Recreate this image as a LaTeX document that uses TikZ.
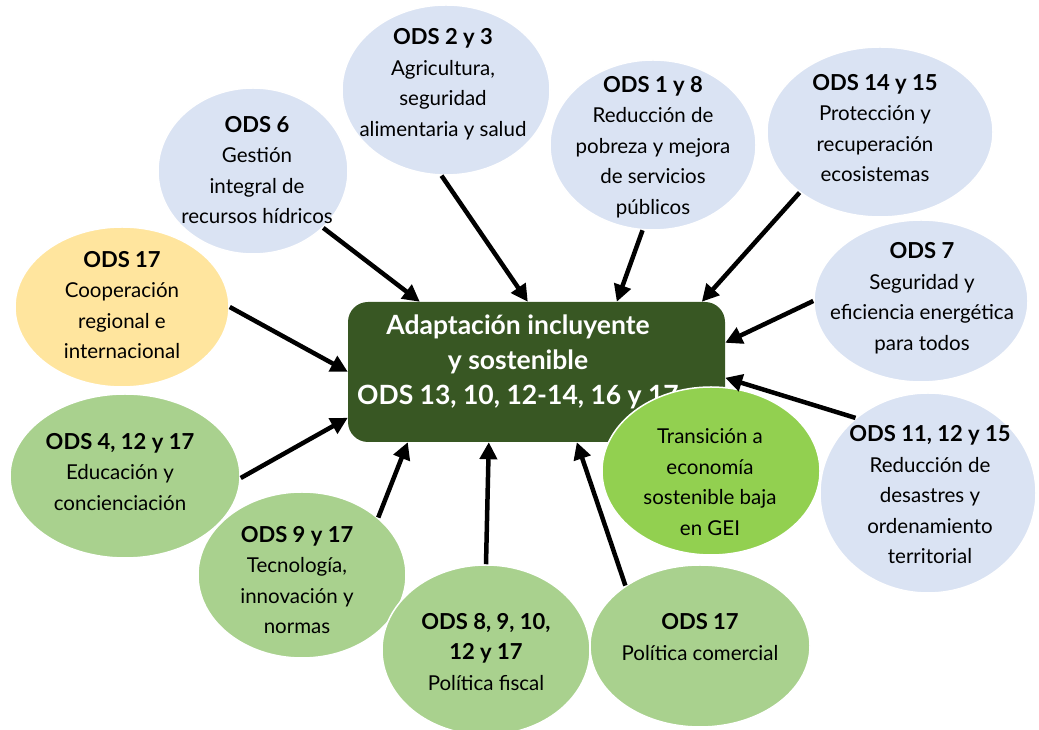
\documentclass[tikz,border=0pt]{standalone}
\usepackage{fontspec}
\setmainfont{Lato}
\usepackage{xcolor}
\usetikzlibrary{shapes.geometric, arrows.meta, positioning}
\definecolor{paleblue}{HTML}{DAE3F3}
\definecolor{palegreen}{HTML}{A9D18E}
\definecolor{paleyellow}{HTML}{FFE59E}
\definecolor{limegreen}{HTML}{92D050}
\definecolor{darkgreen}{HTML}{385723}
\tikzstyle{blob} = [ellipse, draw=white, line width=1.5pt, inner sep=0pt]
\tikzstyle{txt} = [align=center, inner sep=0pt, font=\fontsize{20.5}{30.5}\selectfont]
\tikzstyle{core} = [rectangle, rounded corners=20pt, fill=darkgreen, minimum width=377pt, minimum height=140pt]
\tikzstyle{arrow} = [line width=4.5pt,-{Triangle[length=17pt,width=17pt]}]
\newcommand{\ods}[1]{{\fontsize{22}{30.5}\selectfont\bfseries #1}}

\begin{document}
\begin{tikzpicture}[x=1pt, y=1pt]
    \useasboundingbox (0,0) rectangle (1039,730);
    % top row
    \node (ods6) [blob, fill=paleblue, minimum width=190pt, minimum height=166pt] at (253,559) {};
    \node (ods23) [blob, fill=paleblue, minimum width=208pt, minimum height=170pt] at (446,640) {};
    \node (ods18) [blob, fill=paleblue, minimum width=206pt, minimum height=170pt] at (653,585) {};
    \node (ods1415) [blob, fill=paleblue, minimum width=226pt, minimum height=170pt] at (880,598) {};
    \node (ods7) [blob, fill=paleblue, minimum width=214pt, minimum height=162pt] at (921,429) {};
    \node (ods111215) [blob, fill=paleblue, minimum width=216pt, minimum height=200pt] at (928,237) {};
    % left side
    \node (ods17c) [blob, fill=paleyellow, minimum width=214pt, minimum height=160pt] at (122,423) {};
    \node (ods41217) [blob, fill=palegreen, minimum width=230pt, minimum height=164pt] at (125,254) {};
    % bottom row
    \node (ods917) [blob, fill=palegreen, minimum width=208pt, minimum height=166pt] at (302,155) {};
    \node (ods8) [blob, fill=palegreen, minimum width=208pt, minimum height=170pt] at (486,80) {};
    \node (ods17pc) [blob, fill=palegreen, minimum width=220pt, minimum height=162pt] at (700,84) {};

    \node (ods6txt) [txt] at (257,560) {\ods{ODS 6}\\Gestión\\integral de\\recursos hídricos};
    \node (ods23txt) [txt] at (443,646) {\ods{ODS 2 y 3}\\Agricultura,\\seguridad\\alimentaria y salud};
    \node (ods18txt) [txt] at (653,583) {\ods{ODS 1 y 8}\\Reducción de\\pobreza y mejora\\de servicios\\públicos};
    \node (ods1415txt) [txt] at (875,602) {\ods{ODS 14 y 15}\\Protección y\\recuperación\\ecosistemas};
    \node (ods7txt) [txt] at (922,432) {\ods{ODS 7}\\Seguridad y\\eficiencia energética\\para todos};
    \node (ods111215txt) [txt] at (930,235) {\ods{ODS 11, 12 y 15}\\Reducción de\\desastres y\\ordenamiento\\territorial};
    \node (ods17ctxt) [txt] at (122,425) {\ods{ODS 17}\\Cooperación\\regional e\\internacional};
    \node (ods41217txt) [txt] at (120,258) {\ods{ODS 4, 12 y 17}\\Educación y\\concienciación};
    \node (ods917txt) [txt] at (297,150) {\ods{ODS 9 y 17}\\Tecnología,\\innovación y\\normas};
    \node (ods8txt) [txt] at (486,78) {\ods{ODS 8, 9, 10,}\\\ods{12 y 17}\\Política fiscal};
    \node (ods17pctxt) [txt] at (700,93) {\ods{ODS 17}\\Política comercial};

    % centre
    \node (centre) [core] at (536.5,358) {};
    \node (centretxt) [txt, text=white, font=\fontsize{26.5}{35}\selectfont\bfseries] at (518,368) {Adaptación incluyente\\y sostenible\\ODS 13, 10, 12-14, 16 y 17};
    \node (gei) [blob, fill=limegreen, minimum width=218pt, minimum height=168pt] at (711,259) {};
    \node (geitxt) [txt] at (710,248) {Transición a\\economía\\sostenible baja\\en GEI};

    \draw [arrow] (ods6.-39) -- ([xshift=72pt]centre.north west);
    \draw [arrow] (ods23.-93) -- ([xshift=180pt]centre.north west);
    \draw [arrow] (ods18.-97) -- ([xshift=269pt]centre.north west);
    \draw [arrow] (ods1415.-143) -- ([xshift=354pt]centre.north west);
    \draw [arrow] (ods7.180) -- ([yshift=-41pt]centre.north east);
    \draw [arrow] (ods111215.134) -- ([yshift=-76pt]centre.north east);
    \draw [arrow] (ods17c.0) -- ([yshift=-70pt]centre.north west);
    \draw [arrow] (ods41217.-1) -- ([yshift=-116pt]centre.north west);
    \draw [arrow] (ods917.37) -- ([xshift=60pt]centre.south west);
    \draw [arrow] (ods8.90) -- ([xshift=141pt]centre.south west);
    \draw [arrow] (ods17pc.141) -- ([xshift=229pt]centre.south west);
\end{tikzpicture}
\end{document}
